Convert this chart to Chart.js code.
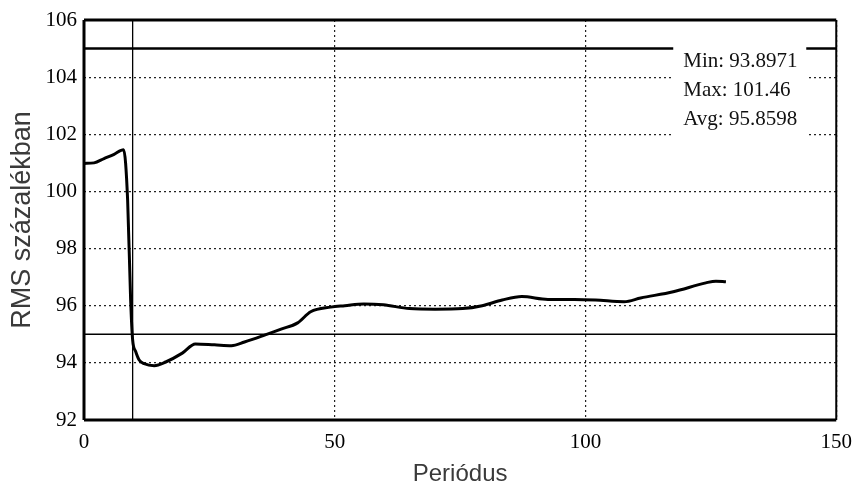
<!DOCTYPE html>
<html>
<head>
<meta charset="utf-8">
<script src="https://cdn.jsdelivr.net/npm/chart.js@4.4.1/dist/chart.umd.min.js"></script>
<style>
  html, body { margin: 0; padding: 0; background: #fff; }
  #wrap { width: 862px; height: 492px; position: relative; }
</style>
</head>
<body>
<div id="wrap"><canvas id="c" width="862" height="492"></canvas></div>
<script>
// ---- data ----
const periods = [0, 2, 4, 6, 7.9, 8.7, 9.3, 9.7, 10.3, 11, 12, 14, 16.3, 19.6, 22.2, 26, 29.4, 32, 36, 39.3, 42.6, 45.2, 49.2, 52, 55.8, 59.7, 64.9, 70, 75.5, 79.4, 83.4, 87.3, 92.5, 97.8, 102, 107.7, 111, 117.5, 124, 126, 128];
const rmsValues = [100.98, 101.0, 101.15, 101.3, 101.46, 99.7, 96.2, 94.8, 94.4, 94.1, 93.97, 93.9, 94.03, 94.34, 94.66, 94.63, 94.6, 94.73, 94.97, 95.18, 95.4, 95.79, 95.95, 96.0, 96.06, 96.03, 95.9, 95.88, 95.9, 96.0, 96.2, 96.32, 96.22, 96.22, 96.2, 96.14, 96.27, 96.49, 96.8, 96.86, 96.84];
const upperLimit = 105;
const lowerLimit = 95;
const markerPeriod = 9.7;
const xRange = [0, 150];
const yRange = [92, 106];
const xTickStep = 50;
const yTickStep = 2;
const statLines = ['Min: 93.8971', 'Max: 101.46', 'Avg: 95.8598'];
const xTitle = 'Periódus';
const yTitle = 'RMS százalékban';

// ---- build datasets ----
const rmsPoints = periods.map((p, i) => ({ x: p, y: rmsValues[i] }));
const upperLine = xRange.map(x => ({ x: x, y: upperLimit }));
const lowerLine = xRange.map(x => ({ x: x, y: lowerLimit }));
const markerLine = yRange.map(y => ({ x: markerPeriod, y: y }));

const framePlugin = {
  id: 'frame',
  afterDatasetsDraw(chart) {
    const { ctx, chartArea: a } = chart;
    ctx.save();
    // stats box
    const boxL = a.right - 163, boxR = a.right - 30, boxT = a.top + 18, boxB = a.top + 120;
    ctx.fillStyle = '#fff';
    ctx.fillRect(boxL, boxT, boxR - boxL, boxB - boxT);
    ctx.fillStyle = '#111';
    ctx.font = '21px "Liberation Serif", "Times New Roman", serif';
    ctx.textBaseline = 'alphabetic';
    ctx.textAlign = 'left';
    statLines.forEach((t, i) => ctx.fillText(t, boxL + 10, a.top + 47 + i * 29));
    // frame
    ctx.strokeStyle = '#000';
    ctx.lineWidth = 3;
    ctx.beginPath();
    ctx.moveTo(a.left, a.top); ctx.lineTo(a.right, a.top);
    ctx.moveTo(a.left, a.top); ctx.lineTo(a.left, a.bottom);
    ctx.moveTo(a.left, a.bottom); ctx.lineTo(a.right, a.bottom);
    ctx.stroke();
    ctx.lineWidth = 2;
    ctx.beginPath();
    ctx.moveTo(a.right, a.top); ctx.lineTo(a.right, a.bottom);
    ctx.stroke();
    ctx.restore();
  }
};

const tickFont = { family: '"Liberation Serif", "Times New Roman", serif', size: 21 };
const titleFont = { family: '"Liberation Sans", Arial, sans-serif', size: 24 };

new Chart(document.getElementById('c'), {
  type: 'line',
  data: {
    datasets: [
      { data: rmsPoints, borderColor: '#000', borderWidth: 3, pointRadius: 0, tension: 0.3, cubicInterpolationMode: 'monotone', fill: false },
      { data: upperLine, borderColor: '#000', borderWidth: 2.5, pointRadius: 0, fill: false },
      { data: lowerLine, borderColor: '#000', borderWidth: 1.5, pointRadius: 0, fill: false },
      { data: markerLine, borderColor: '#000', borderWidth: 1.3, pointRadius: 0, fill: false }
    ]
  },
  options: {
    responsive: false,
    animation: false,
    events: [],
    layout: { padding: { left: 0, top: 20, right: 17, bottom: 0 } },
    plugins: { legend: { display: false }, tooltip: { enabled: false } },
    scales: {
      x: {
        type: 'linear',
        min: xRange[0], max: xRange[1],
        afterFit: s => { s.height = 72; },
        ticks: { stepSize: xTickStep, color: '#000', font: tickFont, padding: 10, maxRotation: 0 },
        grid: { color: '#222', lineWidth: 1.2, drawTicks: false },
        border: { display: false, dash: [2, 3] },
        title: { display: true, text: xTitle, color: '#3a3a3a', font: titleFont, padding: { top: 3, bottom: 3 } }
      },
      y: {
        type: 'linear',
        min: yRange[0], max: yRange[1],
        afterFit: s => { s.width = 84; },
        ticks: { stepSize: yTickStep, color: '#000', font: tickFont, padding: 7, autoSkip: false },
        grid: { color: '#222', lineWidth: 1.2, drawTicks: false },
        border: { display: false, dash: [2, 3] },
        title: { display: true, text: yTitle, color: '#3a3a3a', font: { family: '"Liberation Sans", Arial, sans-serif', size: 27 }, padding: { top: 6, bottom: 0 } }
      }
    }
  },
  plugins: [framePlugin]
});
</script>
</body>
</html>
